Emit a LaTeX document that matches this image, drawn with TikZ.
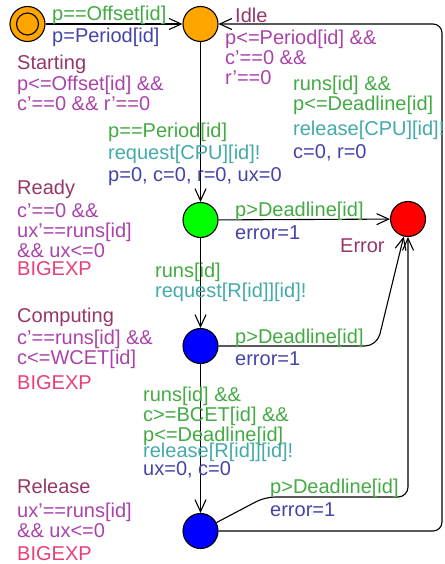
\documentclass[tikz,border=0pt]{standalone}
\usepackage{fontspec}
\setmainfont{Liberation Sans}
\usetikzlibrary{arrows.meta}
\definecolor{cname}{RGB}{150,55,105}
\definecolor{cinv}{RGB}{170,68,170}
\definecolor{cgrd}{RGB}{68,170,68}
\definecolor{csyn}{RGB}{68,170,170}
\definecolor{cupd}{RGB}{68,68,170}
\definecolor{crate}{RGB}{232,64,116}
\definecolor{corange}{RGB}{255,165,0}
\begin{document}
\begin{tikzpicture}[x=1pt,y=-1pt,
  loc/.style={circle,draw=black,line width=1.1pt,minimum size=35pt,inner sep=0pt},
  edge/.style={draw=black,line width=1.1pt,-{Straight Barb[length=12pt,width=11pt,line width=1.1pt]}},
  lab/.style={anchor=base west,inner sep=0pt,align=left,font=\fontsize{20}{20}\selectfont},
  nm/.style={lab,text=cname},
  inv/.style={lab,text=cinv},
  grd/.style={lab,text=cgrd},
  syn/.style={lab,text=csyn},
  upd/.style={lab,text=cupd},
  rate/.style={lab,text=crate}]
\fill[white] (0,0) rectangle (444,564);
\useasboundingbox (0,0) rectangle (444,564);

% locations
\node[loc,fill=corange] (start) at (27.5,24) {};
\draw[line width=1.1pt] (start.center) circle (11pt);
\node[loc,fill=corange] (idle) at (200.5,24) {};
\node[loc,fill=green] (ready) at (200.5,220) {};
\node[loc,fill=red] (err) at (408,219) {};
\node[loc,fill=blue] (comp) at (200.5,346) {};
\node[loc,fill=blue] (rel) at (200.5,531) {};

% helper coordinates
\coordinate (k1) at (377,346);
\coordinate (k2) at (265,497);
\coordinate (k3) at (408,497);
\coordinate (k4) at (442,531);
\coordinate (k5) at (442,24);

% edges
\draw[edge] (start) -- (idle);
\draw[edge] (idle) -- (ready);
\draw[edge] (ready) -- (err);
\draw[edge] (ready) -- (comp);
\draw[edge,rounded corners=12pt] (comp) -- (k1) -- (err);
\draw[edge] (comp) -- (rel);
\draw[edge,rounded corners=10pt] (rel) -- (k2) -- (k3) -- (err);
\draw[edge,rounded corners=9pt] (rel) -- (k4) -- (k5) -- (idle);

% location labels (multi-line nodes: base = last line)
\node[nm] (nstart) at (17,70) {Starting};
\node[inv] (istart) at (17,111) {p<=Offset[id] \&\&\\c'==0 \&\& r'==0};
\node[nm] (nidle) at (235,23) {Idle};
\node[inv] (iidle) at (225,85) {p<=Period[id] \&\&\\c'==0 \&\&\\r'==0};
\node[nm] (nready) at (17,194) {Ready};
\node[inv] (iready) at (17,257) {c'==0 \&\&\\ux'==runs[id]\\\&\& ux<=0};
\node[rate] (rready) at (17,275) {BIGEXP};
\node[nm] (nerr) at (340,252) {Error};
\node[nm] (ncomp) at (17,322) {Computing};
\node[inv] (icomp) at (17,364) {c'==runs[id] \&\&\\c<=WCET[id]};
\node[rate] (rcomp) at (17,389) {BIGEXP};
\node[nm] (nrel) at (17,493) {Release};
\node[inv] (irel) at (17,537) {ux'==runs[id]\\\&\& ux<=0};
\node[rate] (rrel) at (17,560) {BIGEXP};

% edge labels
\node[grd] (g1) at (52,21) {p==Offset[id]};
\node[upd] (u1) at (52,43) {p=Period[id]};
\node[grd] (g2) at (108,138) {p==Period[id]};
\node[syn] (s2) at (108,160) {request[CPU][id]!};
\node[upd] (u2) at (108,182) {p=0, c=0, r=0, ux=0};
\node[grd] (g3) at (293,111) {runs[id] \&\&\\p<=Deadline[id]};
\node[syn] (s3) at (293,136) {release[CPU][id]!};
\node[upd] (u3) at (293,159) {c=0, r=0};
\node[grd] (g4) at (235,216) {p>Deadline[id]};
\node[upd] (u4) at (235,239) {error=1};
\node[grd] (g5) at (155,277) {runs[id]};
\node[syn] (s5) at (155,297) {request[R[id]][id]!};
\node[grd] (g6) at (235,343) {p>Deadline[id]};
\node[upd] (u6) at (235,365) {error=1};
\node[grd] (g7) at (143,441) {runs[id] \&\&\\c>=BCET[id] \&\&\\p<=Deadline[id]};
\node[syn] (s7) at (143,457) {release[R[id]][id]!};
\node[upd] (u7) at (143,475) {ux=0, c=0};
\node[grd] (g8) at (270,493) {p>Deadline[id]};
\node[upd] (u8) at (270,516) {error=1};
\end{tikzpicture}
\end{document}
